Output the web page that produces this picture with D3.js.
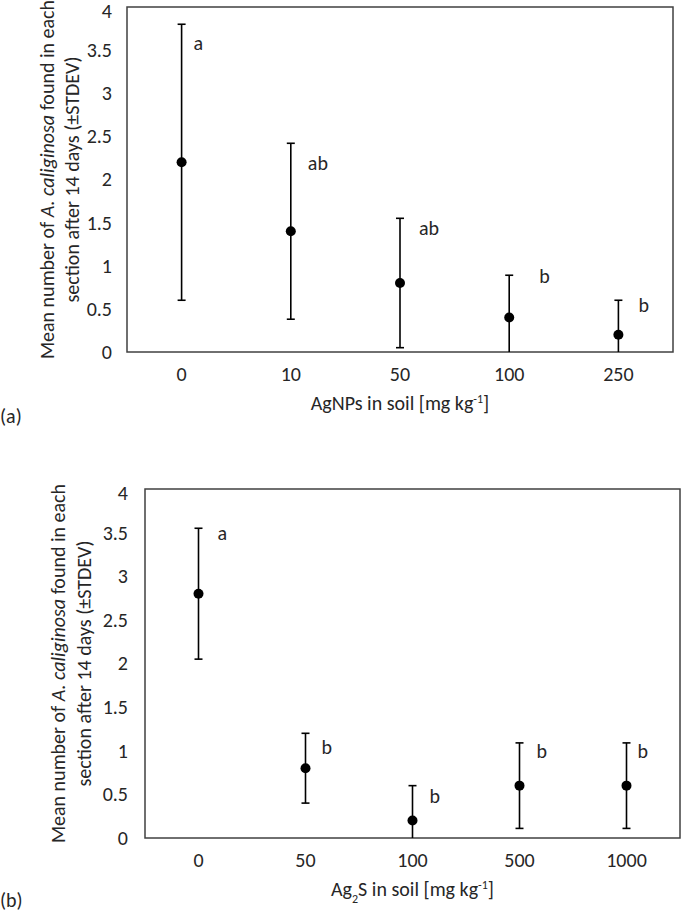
<!DOCTYPE html>
<html>
<head>
<meta charset="utf-8">
<script src="https://cdn.jsdelivr.net/npm/d3@7"></script>
<style>
  body { margin: 0; background: #fff; }
  text { font-family: Carlito, Lato, sans-serif; fill: #262626; }
</style>
</head>
<body>
<svg id="chart" width="685" height="911"></svg>
<script>
// panel (a): AgNPs
const agnpCategories = ["0", "10", "50", "100", "250"];
const agnpMeans = [2.2, 1.4, 0.8, 0.4, 0.2];
const agnpSd = [1.6, 1.02, 0.75, 0.49, 0.4];
const agnpLetters = ["a", "ab", "ab", "b", "b"];
const agnpLetterY = [3.58, 2.19, 1.44, 0.88, 0.55];

// panel (b): Ag2S
const ag2sCategories = ["0", "50", "100", "500", "1000"];
const ag2sMeans = [2.8, 0.8, 0.2, 0.6, 0.6];
const ag2sSd = [0.75, 0.4, 0.4, 0.49, 0.49];
const ag2sLetters = ["a", "b", "b", "b", "b"];
const ag2sLetterY = [3.49, 1.04, 0.48, 1.0, 1.0];

const yTicks = [0, 0.5, 1, 1.5, 2, 2.5, 3, 3.5, 4];
const yDomain = [0, 4];

const svg = d3.select("#chart");
const fontSize = 20;
const fontFamily = "Carlito, Lato, sans-serif";

function drawPanel(cfg) {
  const { left, right, top, bottom } = cfg.box;

  const x = d3.scaleBand().domain(cfg.categories).range([left, right]);
  const y = d3.scaleLinear().domain(yDomain).range([bottom, top]);

  const g = svg.append("g");

  // y axis labels
  const yAxis = g.append("g")
    .attr("transform", "translate(" + left + ",0)")
    .call(d3.axisLeft(y).tickValues(yTicks).tickSize(0).tickPadding(cfg.yPad).tickFormat(d => String(d)));
  yAxis.select(".domain").remove();
  yAxis.selectAll("text").style("font-size", fontSize + "px").attr("fill", "#262626")
    .style("font-family", fontFamily);
  yAxis.selectAll(".tick").filter(d => d === 4).select("text").attr("dy", "0.5em");

  // x axis labels
  const xAxis = g.append("g")
    .attr("transform", "translate(0," + bottom + ")")
    .call(d3.axisBottom(x).tickSize(0).tickPadding(15));
  xAxis.select(".domain").remove();
  xAxis.selectAll("text").style("font-size", fontSize + "px").attr("fill", "#262626")
    .style("font-family", fontFamily);

  // frame
  g.append("rect")
    .attr("x", left).attr("y", top)
    .attr("width", right - left).attr("height", bottom - top)
    .attr("fill", "none").attr("stroke", "#404040").attr("stroke-width", 1.5);

  const rows = cfg.categories.map((c, i) => ({
    cat: c, mean: cfg.means[i], sd: cfg.sd[i],
    letter: cfg.letters[i], ly: cfg.letterY[i], dx: cfg.letterDx[i]
  }));
  const cx = d => x(d.cat) + x.bandwidth() / 2;
  const capW = 4;

  const bars = g.selectAll(".err").data(rows).enter().append("g").attr("class", "err");
  bars.append("line")
    .attr("x1", cx).attr("x2", cx)
    .attr("y1", d => y(d.mean + d.sd))
    .attr("y2", d => y(Math.max(0, d.mean - d.sd)))
    .attr("stroke", "#000").attr("stroke-width", 1.6);
  bars.append("line")
    .attr("x1", d => cx(d) - capW).attr("x2", d => cx(d) + capW)
    .attr("y1", d => y(d.mean + d.sd)).attr("y2", d => y(d.mean + d.sd))
    .attr("stroke", "#000").attr("stroke-width", 1.6);
  bars.filter(d => d.mean - d.sd > 0).append("line")
    .attr("x1", d => cx(d) - capW).attr("x2", d => cx(d) + capW)
    .attr("y1", d => y(d.mean - d.sd)).attr("y2", d => y(d.mean - d.sd))
    .attr("stroke", "#000").attr("stroke-width", 1.6);
  bars.append("circle")
    .attr("cx", cx).attr("cy", d => y(d.mean))
    .attr("r", 5).attr("fill", "#000");

  // significance letters
  g.selectAll(".letter").data(rows).enter().append("text")
    .attr("class", "letter")
    .attr("x", d => cx(d) + d.dx)
    .attr("y", d => y(d.ly))
    .attr("dy", "0.35em")
    .style("font-size", fontSize + "px")
    .text(d => d.letter);

  // y title, two lines
  const yMid = (top + bottom) / 2;
  const t1 = g.append("text")
    .attr("transform", "translate(" + cfg.yTitleX[0] + "," + yMid + ") rotate(-90)")
    .attr("text-anchor", "middle").attr("dy", "0.35em")
    .style("font-size", fontSize + "px");
  t1.append("tspan").text("Mean number of ");
  t1.append("tspan").style("font-style", "italic").text("A. caliginosa");
  t1.append("tspan").text(" found in each");
  g.append("text")
    .attr("transform", "translate(" + cfg.yTitleX[1] + "," + yMid + ") rotate(-90)")
    .attr("text-anchor", "middle").attr("dy", "0.35em")
    .style("font-size", fontSize + "px")
    .text("section after 14 days (\u00B1STDEV)");

  // x title
  const xt = g.append("text")
    .attr("x", (left + right) / 2).attr("y", bottom + 51)
    .attr("text-anchor", "middle").attr("dy", "0.35em")
    .style("font-size", fontSize + "px");
  cfg.xTitle(xt);

  // panel tag
  g.append("text")
    .attr("x", 0).attr("y", cfg.tagY).attr("dy", "0.35em")
    .style("font-size", fontSize + "px")
    .text(cfg.tag);
}

drawPanel({
  box: { left: 127, right: 673, top: 7, bottom: 352 },
  categories: agnpCategories, means: agnpMeans, sd: agnpSd,
  letters: agnpLetters, letterY: agnpLetterY,
  letterDx: [12, 17, 19, 30, 20],
  yPad: 15, yTitleX: [47, 72],
  xTitle: t => {
    t.append("tspan").text("AgNPs in soil [mg kg");
    t.append("tspan").attr("baseline-shift", "super").style("font-size", "12px").text("-1");
    t.append("tspan").text("]");
  },
  tag: "(a)", tagY: 416
});

drawPanel({
  box: { left: 145, right: 680, top: 489, bottom: 838 },
  categories: ag2sCategories, means: ag2sMeans, sd: ag2sSd,
  letters: ag2sLetters, letterY: ag2sLetterY,
  letterDx: [19, 16, 17, 17, 11],
  yPad: 17, yTitleX: [58, 84],
  xTitle: t => {
    t.append("tspan").text("Ag");
    t.append("tspan").attr("baseline-shift", "sub").style("font-size", "12px").text("2");
    t.append("tspan").text("S in soil [mg kg");
    t.append("tspan").attr("baseline-shift", "super").style("font-size", "12px").text("-1");
    t.append("tspan").text("]");
  },
  tag: "(b)", tagY: 900
});
</script>
</body>
</html>
